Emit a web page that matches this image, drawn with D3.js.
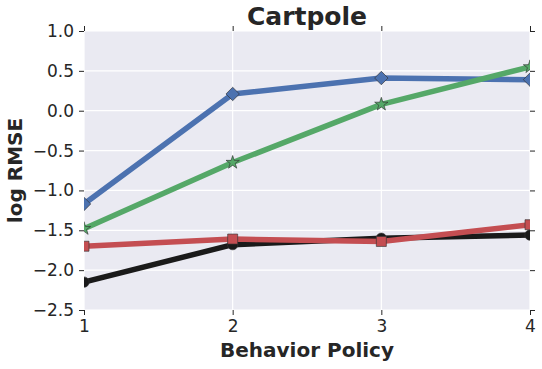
<!DOCTYPE html>
<html>
<head>
<meta charset="utf-8">
<script src="https://cdn.jsdelivr.net/npm/d3@7"></script>
<style>
  body { margin: 0; background: #fff; }
  text { font-family: "DejaVu Sans", sans-serif; fill: #262626; }
</style>
</head>
<body>
<div id="chart"></div>
<script>
const policies = [1, 2, 3, 4];
const yTicks = [-2.5, -2.0, -1.5, -1.0, -0.5, 0.0, 0.5, 1.0];

const blueValues = [-1.17, 0.21, 0.41, 0.39];
const greenValues = [-1.48, -0.65, 0.08, 0.55];
const blackValues = [-2.15, -1.68, -1.60, -1.56];
const redValues = [-1.70, -1.61, -1.64, -1.43];

const series = [
  { name: "blue", values: blueValues, color: "#4C72B0", marker: "diamond" },
  { name: "green", values: greenValues, color: "#55A868", marker: "star" },
  { name: "black", values: blackValues, color: "#1a1a1a", marker: "circle" },
  { name: "red", values: redValues, color: "#C44E52", marker: "square" }
];

const W = 542, H = 369;
const margin = { top: 31, right: 12, bottom: 59, left: 84 };
const width = W - margin.left - margin.right;
const height = H - margin.top - margin.bottom;

const svg = d3.select("#chart").append("svg")
  .attr("width", W)
  .attr("height", H);

const canvas = svg.append("g")
  .attr("transform", "translate(" + margin.left + "," + margin.top + ")");

const x = d3.scaleLinear().domain([1, 4]).range([0, width]);
const y = d3.scaleLinear().domain([-2.5, 1]).range([height, 0]);

// background + grid
canvas.append("rect")
  .attr("width", width)
  .attr("height", height)
  .attr("fill", "#EAEAF2");

canvas.append("g")
  .selectAll("line.gy")
  .data(yTicks)
  .join("line")
  .attr("x1", 0).attr("x2", width)
  .attr("y1", d => y(d)).attr("y2", d => y(d))
  .attr("stroke", "#fff").attr("stroke-width", 1.2);

canvas.append("g")
  .selectAll("line.gx")
  .data(policies)
  .join("line")
  .attr("x1", d => x(d)).attr("x2", d => x(d))
  .attr("y1", 0).attr("y2", height)
  .attr("stroke", "#fff").attr("stroke-width", 1.2);

// axes (ticks on all four sides, labels left and bottom)
const fmt = d3.format(".1f");
const styleAxis = g => {
  g.select(".domain").remove();
  g.selectAll(".tick line").attr("stroke", "#262626").attr("stroke-width", 1);
  g.selectAll(".tick text").style("font-size", "17px").attr("fill", "#262626");
};

canvas.append("g")
  .call(d3.axisLeft(y).tickValues(yTicks).tickFormat(fmt).tickSize(5).tickPadding(5))
  .call(styleAxis);

canvas.append("g")
  .attr("transform", "translate(" + width + ",0)")
  .call(d3.axisRight(y).tickValues(yTicks).tickFormat("").tickSize(5))
  .call(styleAxis);

canvas.append("g")
  .attr("transform", "translate(0," + height + ")")
  .call(d3.axisBottom(x).tickValues(policies).tickFormat(d3.format("d")).tickSize(5).tickPadding(5))
  .call(styleAxis);

canvas.append("g")
  .call(d3.axisTop(x).tickValues(policies).tickFormat("").tickSize(5))
  .call(styleAxis);

// lines
canvas.append("clipPath").attr("id", "clip")
  .append("rect").attr("width", width).attr("height", height);

const plot = canvas.append("g").attr("clip-path", "url(#clip)");

const line = d3.line()
  .x((d, i) => x(policies[i]))
  .y(d => y(d));

const symbols = {
  diamond: d3.symbol().type(d3.symbolSquare).size(90),
  star: d3.symbol().type(d3.symbolStar).size(55),
  circle: d3.symbol().type(d3.symbolCircle).size(85),
  square: d3.symbol().type(d3.symbolSquare).size(100)
};

series.forEach(s => {
  const g = plot.append("g");
  g.append("path")
    .datum(s.values)
    .attr("d", line)
    .attr("fill", "none")
    .attr("stroke", s.color)
    .attr("stroke-width", 5.5)
    .attr("stroke-linejoin", "round")
    .attr("stroke-linecap", "butt");
  g.selectAll("path.m")
    .data(s.values)
    .join("path")
    .attr("class", "m")
    .attr("d", symbols[s.marker])
    .attr("transform", (d, i) => "translate(" + x(policies[i]) + "," + y(d) + ")" + (s.marker === "diamond" ? " rotate(45)" : ""))
    .attr("fill", s.color)
    .attr("stroke", "#333")
    .attr("stroke-opacity", 0.8)
    .attr("stroke-width", 0.8);
});

// labels
svg.append("text")
  .attr("x", margin.left + width / 2)
  .attr("y", 25)
  .attr("text-anchor", "middle")
  .style("font-size", "25px")
  .style("font-weight", "bold")
  .text("Cartpole");

svg.append("text")
  .attr("x", margin.left + width / 2)
  .attr("y", 357)
  .attr("text-anchor", "middle")
  .style("font-size", "20px")
  .style("font-weight", "bold")
  .text("Behavior Policy");

svg.append("text")
  .attr("transform", "translate(22," + (margin.top + height / 2) + ") rotate(-90)")
  .attr("text-anchor", "middle")
  .style("font-size", "20px")
  .style("font-weight", "bold")
  .text("log RMSE");
</script>
</body>
</html>
